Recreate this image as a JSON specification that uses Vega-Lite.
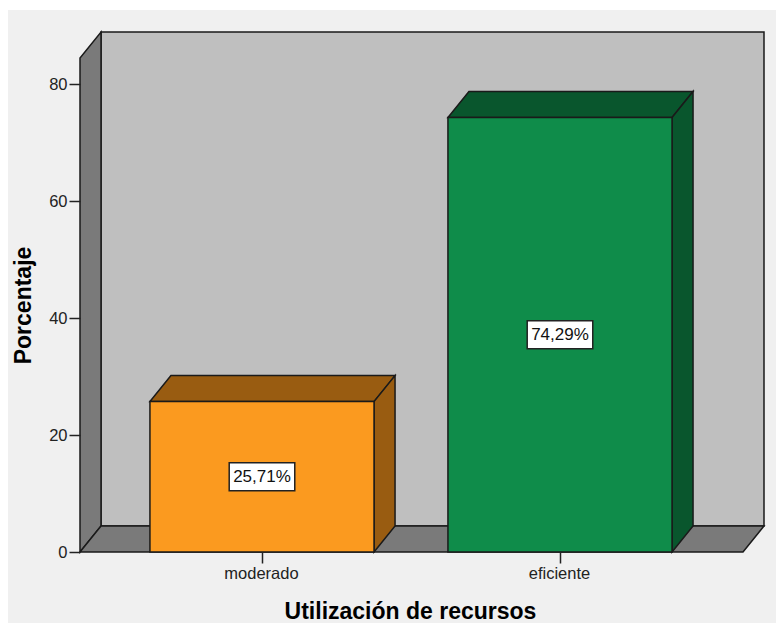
{
"$schema":"https://vega.github.io/schema/vega-lite/v6.json",
"width":684,"height":520,
"autosize":{"type":"none"},
"padding":{"left":80,"top":32,"right":12,"bottom":71},
"background":"#ffffff",
"config":{"view":{"stroke":null},"font":"Liberation Sans"},
"datasets":{"barras":[
{"categoria":"moderado","orden":1,"porcentaje":25.71,"etiqueta":"25,71%"},
{"categoria":"eficiente","orden":2,"porcentaje":74.29,"etiqueta":"74,29%"}
]},
"resolve":{"scale":{"fill":"independent"},"axis":{"x":"independent","y":"independent"}},
"layer":[
{"data":{"values":[{"cara":"fondo"}]},
 "mark":{"type":"rect","fill":"#f0f0f0"},
 "encoding":{
  "x":{"datum":0.1477,"type":"quantitative","scale":{"domain":[0.3893,2.6846],"nice":false,"zero":false},
   "axis":{"values":[1,2],"labelExpr":"datum.value==1?'moderado':'eficiente'","grid":false,"domain":false,"tickSize":11,"tickWidth":1.5,"tickColor":"#222222","labelFont":"Liberation Sans","labelFontSize":16.5,"labelColor":"#222222","labelPadding":2,"labelOffset":-1,"title":"Utilización de recursos","titleFont":"Liberation Sans","titleFontSize":23,"titleFontWeight":"bold","titleColor":"#000000","titleX":330,"titleY":59,"titleBaseline":"middle","titleAlign":"center","zindex":1}},
  "x2":{"datum":2.7248},
  "y":{"datum":92.65,"type":"quantitative","scale":{"domain":[0,88.889],"nice":false,"zero":false},
   "axis":{"values":[0,20,40,60,80],"grid":false,"domain":false,"tickSize":11,"tickWidth":1.5,"tickColor":"#222222","labelFont":"Liberation Sans","labelFontSize":16.5,"labelColor":"#222222","labelPadding":2,"title":"Porcentaje","titleFont":"Liberation Sans","titleFontSize":23,"titleFontWeight":"bold","titleColor":"#000000","titleX":-57,"titleY":273,"titleBaseline":"middle","titleAlign":"center","titleAngle":-90,"zindex":1}},
  "y2":{"datum":-12.14}
 }},
{"data":{"values":[{"cara":"pared"}]},
 "mark":{"type":"rect","fill":"#bfbfbf","stroke":"#1a1a1a","strokeWidth":1.5},
 "encoding":{
  "x":{"datum":0.4598,"type":"quantitative","scale":{"domain":[0.3893,2.6846],"nice":false,"zero":false},"axis":null},
  "x2":{"datum":2.6846},
  "y":{"datum":4.444,"type":"quantitative","scale":{"domain":[0,88.889],"nice":false,"zero":false},"axis":null},
  "y2":{"datum":88.889}
 }},
{"data":{"values":[{"cara":"lateral"}]},
 "transform":[
  {"calculate":"[0.3893,0.4598]","as":"px"},
  {"calculate":"[0,4.444]","as":"py"},
  {"calculate":"[84.445,88.889]","as":"py2"},
  {"flatten":["px","py","py2"]}],
 "mark":{"type":"area","fill":"#7a7a7a","stroke":"#1a1a1a","strokeWidth":1.5},
 "encoding":{
  "x":{"field":"px","type":"quantitative","scale":{"domain":[0.3893,2.6846],"nice":false,"zero":false},"axis":null},
  "y":{"field":"py","type":"quantitative","stack":null,"scale":{"domain":[0,88.889],"nice":false,"zero":false},"axis":null},
  "y2":{"field":"py2"}
 }},
{"data":{"values":[{"cara":"suelo"}]},
 "transform":[
  {"calculate":"[0.3893,0.4598,2.6141,2.6846]","as":"px"},
  {"calculate":"[0,0,0,4.444]","as":"py"},
  {"calculate":"[0,4.444,4.444,4.444]","as":"py2"},
  {"flatten":["px","py","py2"]}],
 "mark":{"type":"area","fill":"#7a7a7a","stroke":"#1a1a1a","strokeWidth":1.5},
 "encoding":{
  "x":{"field":"px","type":"quantitative","scale":{"domain":[0.3893,2.6846],"nice":false,"zero":false},"axis":null},
  "y":{"field":"py","type":"quantitative","stack":null,"scale":{"domain":[0,88.889],"nice":false,"zero":false},"axis":null},
  "y2":{"field":"py2"}
 }},
{"data":{"name":"barras"},
 "transform":[
  {"calculate":"[datum.orden-0.376,datum.orden-0.376+0.0705,datum.orden+0.376,datum.orden+0.376+0.0705]","as":"px"},
  {"calculate":"[datum.porcentaje,datum.porcentaje,datum.porcentaje,datum.porcentaje+4.444]","as":"py"},
  {"calculate":"[datum.porcentaje,datum.porcentaje+4.444,datum.porcentaje+4.444,datum.porcentaje+4.444]","as":"py2"},
  {"flatten":["px","py","py2"]}],
 "mark":{"type":"area","stroke":"#1a1a1a","strokeWidth":1.5},
 "encoding":{
  "x":{"field":"px","type":"quantitative","scale":{"domain":[0.3893,2.6846],"nice":false,"zero":false},"axis":null},
  "y":{"field":"py","type":"quantitative","stack":null,"scale":{"domain":[0,88.889],"nice":false,"zero":false},"axis":null},
  "y2":{"field":"py2"},
  "fill":{"field":"categoria","type":"nominal","legend":null,"scale":{"domain":["moderado","eficiente"],"range":["#995c11","#09562d"]}}
 }},
{"data":{"name":"barras"},
 "transform":[
  {"calculate":"[datum.orden+0.376,datum.orden+0.376+0.0705]","as":"px"},
  {"calculate":"[0,4.444]","as":"py"},
  {"calculate":"[datum.porcentaje,datum.porcentaje+4.444]","as":"py2"},
  {"flatten":["px","py","py2"]}],
 "mark":{"type":"area","stroke":"#1a1a1a","strokeWidth":1.5},
 "encoding":{
  "x":{"field":"px","type":"quantitative","scale":{"domain":[0.3893,2.6846],"nice":false,"zero":false},"axis":null},
  "y":{"field":"py","type":"quantitative","stack":null,"scale":{"domain":[0,88.889],"nice":false,"zero":false},"axis":null},
  "y2":{"field":"py2"},
  "fill":{"field":"categoria","type":"nominal","legend":null,"scale":{"domain":["moderado","eficiente"],"range":["#995c11","#09562d"]}}
 }},
{"data":{"name":"barras"},
 "transform":[
  {"calculate":"datum.orden-0.376","as":"x0"},
  {"calculate":"datum.orden+0.376","as":"x1"}],
 "mark":{"type":"rect","stroke":"#1a1a1a","strokeWidth":1.5},
 "encoding":{
  "x":{"field":"x0","type":"quantitative","scale":{"domain":[0.3893,2.6846],"nice":false,"zero":false},"axis":null},
  "x2":{"field":"x1"},
  "y":{"field":"porcentaje","type":"quantitative","scale":{"domain":[0,88.889],"nice":false,"zero":false},"axis":null},
  "y2":{"datum":0},
  "fill":{"field":"categoria","type":"nominal","legend":null,"scale":{"domain":["moderado","eficiente"],"range":["#fb9a1f","#0f8c4a"]}}
 }},
{"data":{"name":"barras"},
 "transform":[
  {"calculate":"datum.orden-0.11","as":"x0"},
  {"calculate":"datum.orden+0.11","as":"x1"},
  {"calculate":"datum.porcentaje/2-2.39","as":"y0"},
  {"calculate":"datum.porcentaje/2+2.39","as":"y1"}],
 "mark":{"type":"rect","fill":"#ffffff","stroke":"#222222","strokeWidth":1.5},
 "encoding":{
  "x":{"field":"x0","type":"quantitative","scale":{"domain":[0.3893,2.6846],"nice":false,"zero":false},"axis":null},
  "x2":{"field":"x1"},
  "y":{"field":"y0","type":"quantitative","scale":{"domain":[0,88.889],"nice":false,"zero":false},"axis":null},
  "y2":{"field":"y1"}
 }},
{"data":{"name":"barras"},
 "transform":[{"calculate":"datum.porcentaje/2","as":"medio"}],
 "mark":{"type":"text","font":"Liberation Sans","fontSize":17,"color":"#111111","align":"center","baseline":"middle"},
 "encoding":{
  "x":{"field":"orden","type":"quantitative","scale":{"domain":[0.3893,2.6846],"nice":false,"zero":false},"axis":null},
  "y":{"field":"medio","type":"quantitative","scale":{"domain":[0,88.889],"nice":false,"zero":false},"axis":null},
  "text":{"field":"etiqueta"}
 }}
]
}
